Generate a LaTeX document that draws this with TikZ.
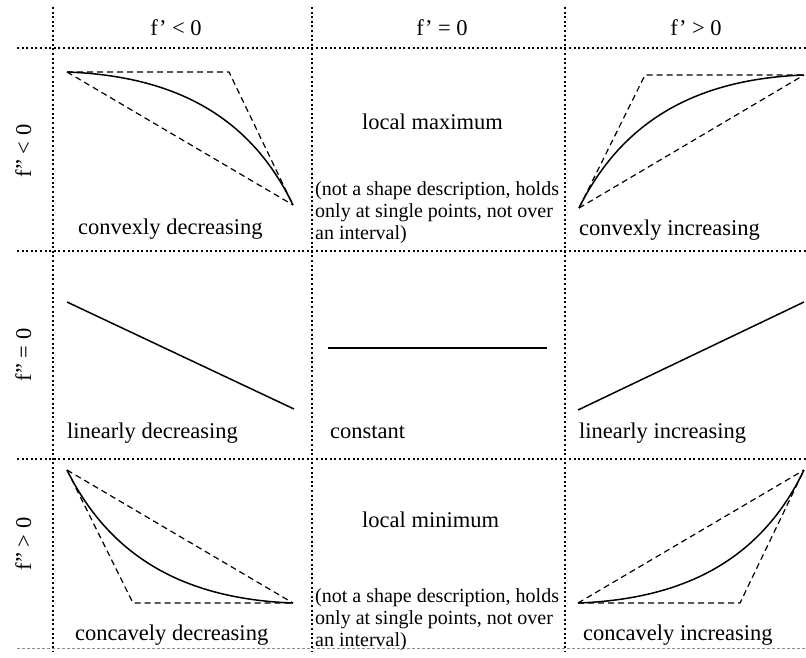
\documentclass[tikz,border=0pt]{standalone}
\usepackage{fontspec}
\setmainfont{Liberation Serif}
\usetikzlibrary{calc}
\begin{document}
\begin{tikzpicture}[x=1pt,y=-1pt,
  gridline/.style={line width=1.3pt, dash pattern=on 2pt off 2.6pt},
  baseline rule/.style={line width=0.9pt, black!45, dash pattern=on 3pt off 2pt},
  hull/.style={line width=1.2pt, dash pattern=on 6pt off 4pt},
  curve/.style={line width=1.5pt},
  lbl/.style={font=\fontsize{22.5}{26}\selectfont, anchor=base west, inner sep=0pt},
  head/.style={font=\fontsize{22.5}{26}\selectfont, anchor=base, inner sep=0pt},
  note/.style={font=\fontsize{20}{22}\selectfont, anchor=base west, inner sep=0pt},
]
\useasboundingbox (0,0) rectangle (806,657);

% table rules
\draw[gridline] (53,7) -- (53,652);
\draw[gridline] (312,7) -- (312,652);
\draw[gridline] (565,7) -- (565,652);
\draw[gridline] (17,48) -- (806,48);
\draw[gridline] (17,251) -- (806,251);
\draw[gridline] (17,459) -- (806,459);
\draw[baseline rule] (17,648) -- (806,648);

% column headings
\node[head] (h1) at (176,35) {f' < 0};
\node[head] (h2) at (442,35) {f' = 0};
\node[head] (h3) at (696,35) {f' > 0};

% row headings
\node[head, rotate=90] (r1) at (31,151) {f'' < 0};
\node[head, rotate=90] (r2) at (31,355) {f'' = 0};
\node[head, rotate=90] (r3) at (31,544) {f'' > 0};

% ---- row 1: f'' < 0
\coordinate (a1) at (67,72);  \coordinate (c1) at (229,72);  \coordinate (b1) at (293,205);
\draw[hull] (a1) -- (c1) -- (b1);
\draw[hull] (a1) -- (b1);
\draw[curve] (a1) .. controls ($(a1)!2/3!(c1)+(0,4)$) and ($(b1)!2/3!(c1)$) .. (b1);
\node[lbl] (t11) at (78,234) {convexly decreasing};

\node[lbl] (t12) at (362,129) {local maximum};
\node[note] (n11) at (315,195) {(not a shape description, holds};
\node[note] (n12) at (315,217) {only at single points, not over};
\node[note] (n13) at (315,239) {an interval)};

\coordinate (a3) at (579,208); \coordinate (c3) at (645,75); \coordinate (b3) at (804,75);
\draw[hull] (a3) -- (c3) -- (b3);
\draw[hull] (a3) -- (b3);
\draw[curve] (a3) .. controls ($(a3)!2/3!(c3)$) and ($(b3)!2/3!(c3)+(0,4)$) .. (b3);
\node[lbl] (t13) at (579,235) {convexly increasing};

% ---- row 2: f'' = 0
\coordinate (d1) at (67,302);  \coordinate (e1) at (294,409);
\draw[curve] (d1) -- (e1);
\node[lbl] (t21) at (67,438) {linearly decreasing};

\coordinate (d2) at (328,348); \coordinate (e2) at (547,348);
\draw[curve] (d2) -- (e2);
\node[lbl] (t22) at (330,438) {constant};

\coordinate (d3) at (578,410); \coordinate (e3) at (804,302);
\draw[curve] (d3) -- (e3);
\node[lbl] (t23) at (579,438) {linearly increasing};

% ---- row 3: f'' > 0
\coordinate (g1) at (67,470);  \coordinate (k1) at (133,603); \coordinate (m1) at (293,603);
\draw[hull] (g1) -- (k1) -- (m1);
\draw[hull] (g1) -- (m1);
\draw[curve] (g1) .. controls ($(g1)!2/3!(k1)$) and ($(m1)!2/3!(k1)+(0,-4)$) .. (m1);
\node[lbl] (t31) at (75,640) {concavely decreasing};

\node[lbl] (t32) at (362,527) {local minimum};
\node[note] (n31) at (315,602) {(not a shape description, holds};
\node[note] (n32) at (315,624) {only at single points, not over};
\node[note] (n33) at (315,646) {an interval)};

\coordinate (g3) at (578,603); \coordinate (k3) at (740,603); \coordinate (m3) at (804,470);
\draw[hull] (g3) -- (k3) -- (m3);
\draw[hull] (g3) -- (m3);
\draw[curve] (g3) .. controls ($(g3)!2/3!(k3)+(0,-4)$) and ($(m3)!2/3!(k3)$) .. (m3);
\node[lbl] (t33) at (583,640) {concavely increasing};
\end{tikzpicture}
\end{document}
